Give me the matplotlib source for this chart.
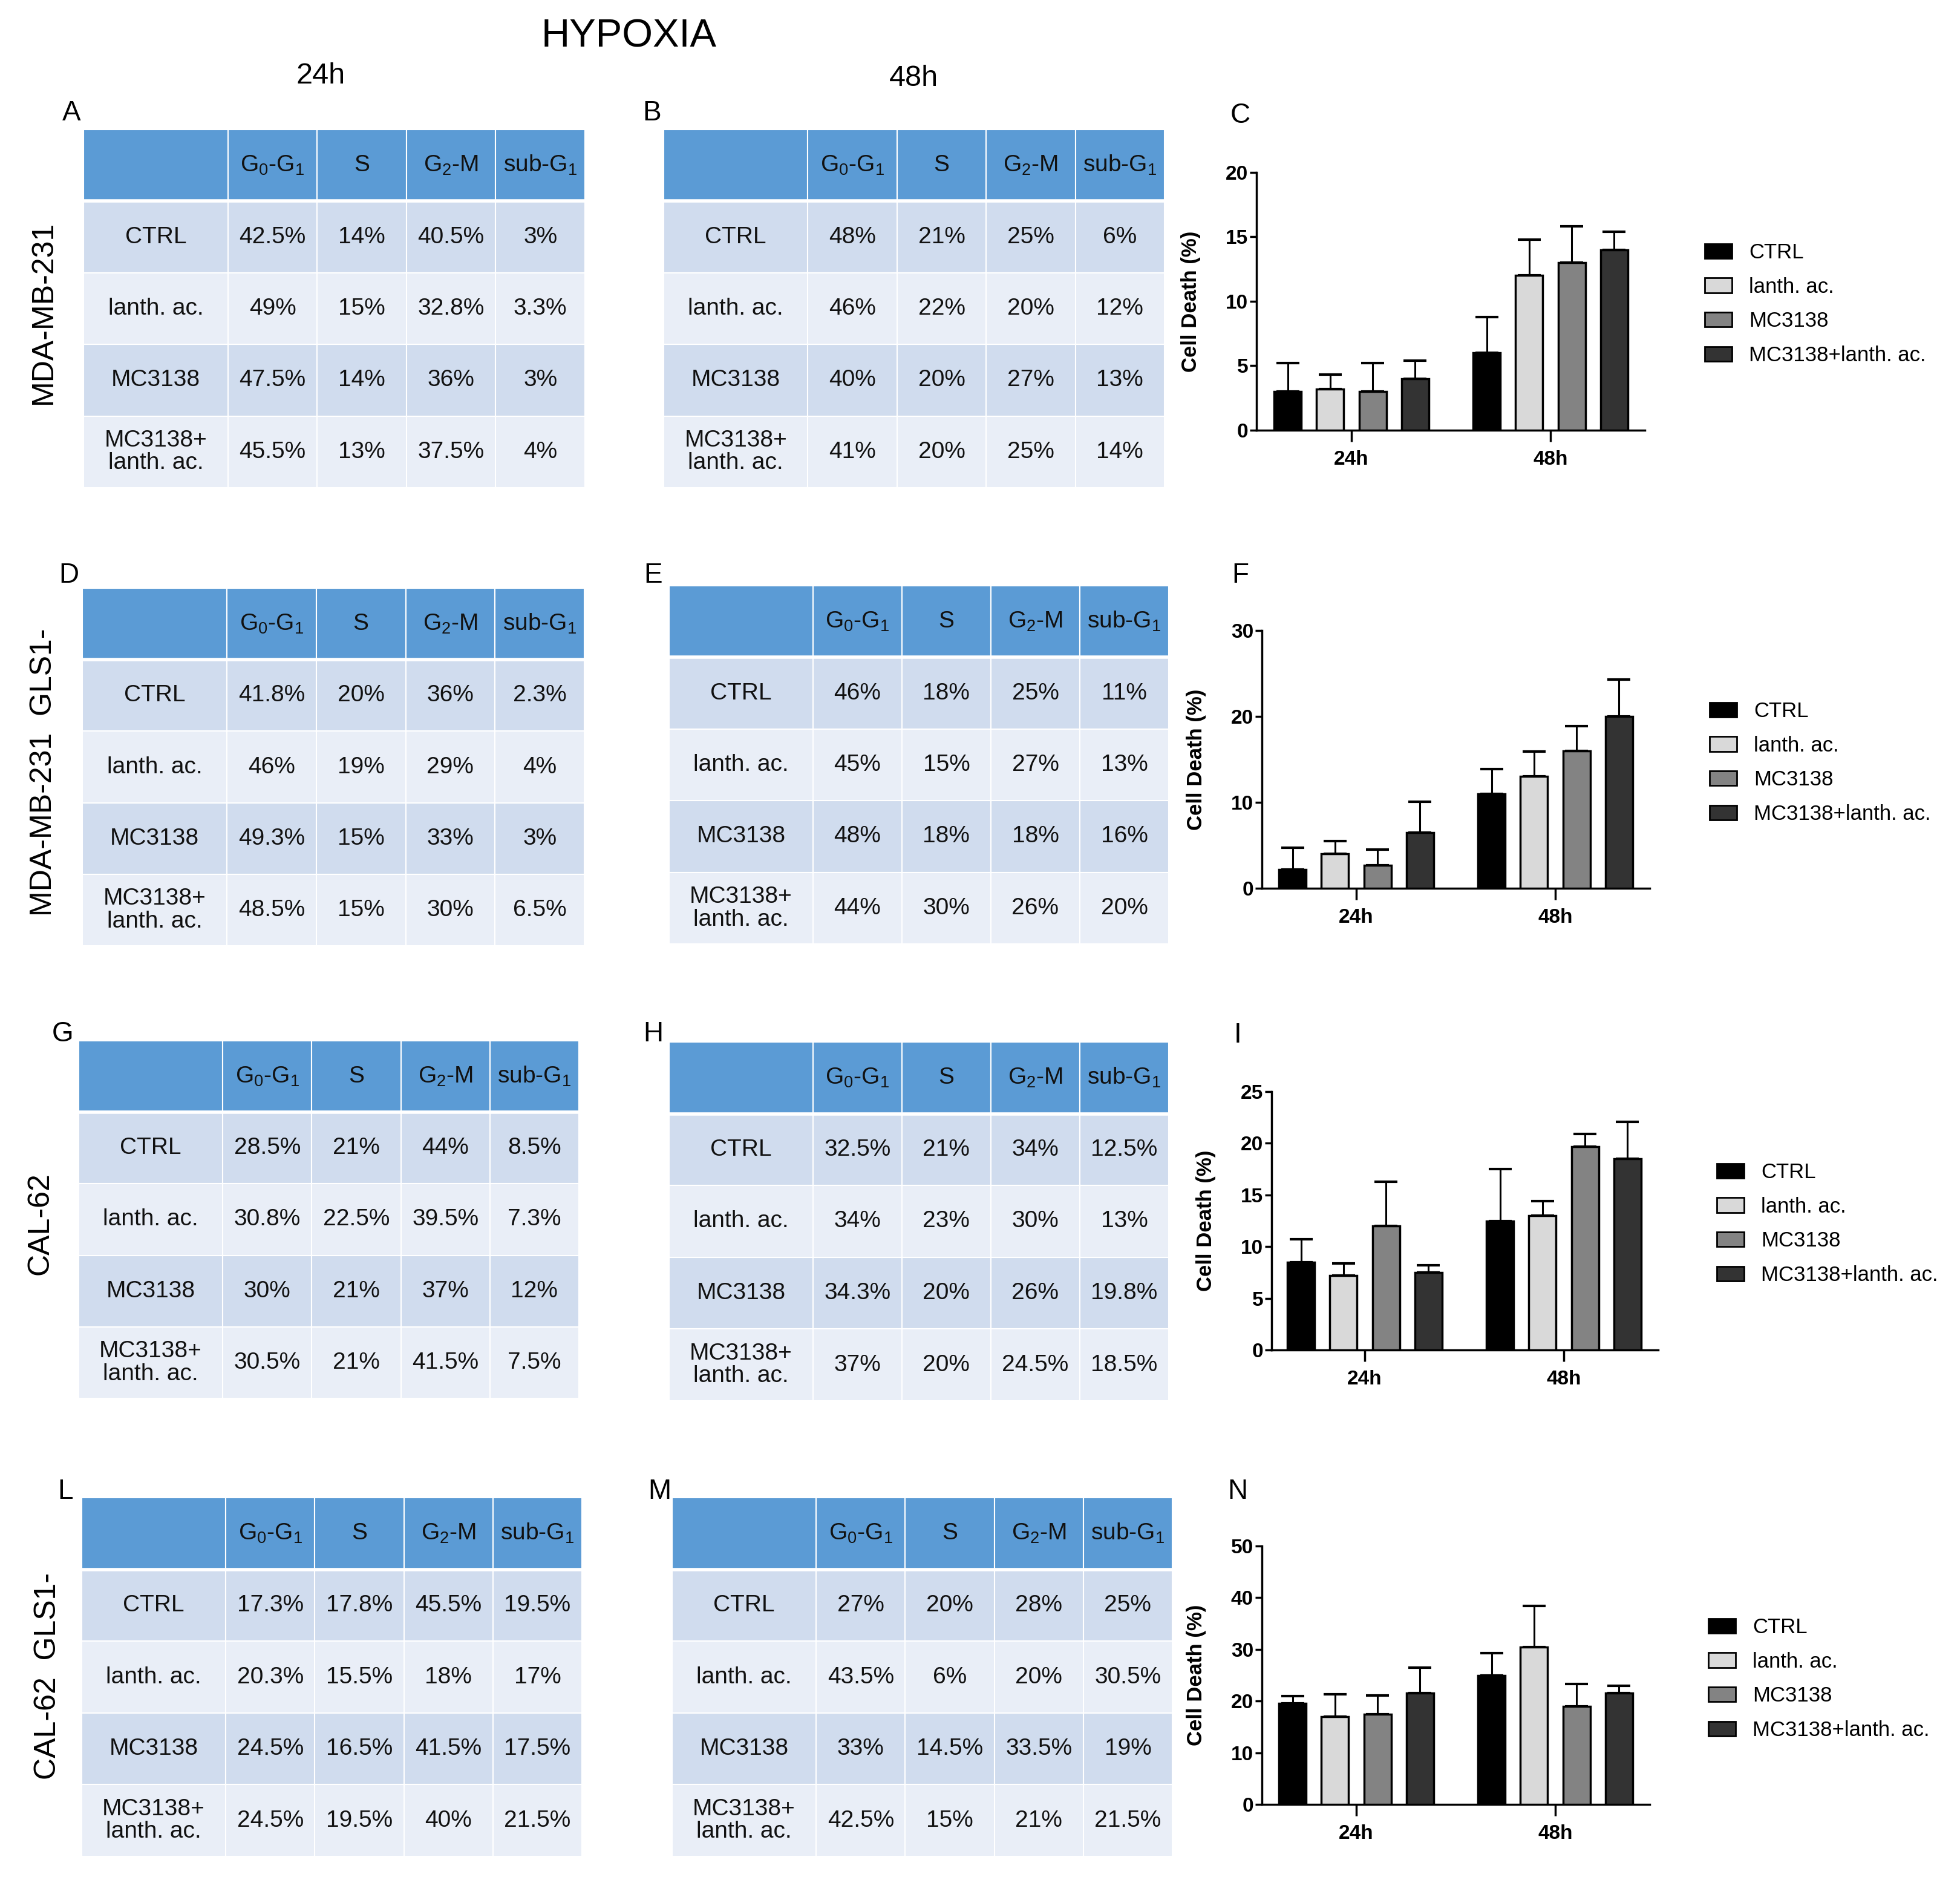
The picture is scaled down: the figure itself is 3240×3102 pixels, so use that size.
import numpy as np
import matplotlib
matplotlib.use("Agg")
import matplotlib.pyplot as plt
from matplotlib.patches import Patch

plt.rcParams['font.family'] = ['Liberation Sans', 'DejaVu Sans']
plt.rcParams['mathtext.fontset'] = 'custom'
plt.rcParams['mathtext.rm'] = 'Liberation Sans'
plt.rcParams['mathtext.it'] = 'Liberation Sans:italic'
plt.rcParams['mathtext.bf'] = 'Liberation Sans:bold'

# ---- data ----
phases = ['', r'G$_0$-G$_1$', 'S', r'G$_2$-M', r'sub-G$_1$']
treatments = ['CTRL', 'lanth. ac.', 'MC3138', 'MC3138+\nlanth. ac.']
legend_labels = ['CTRL', 'lanth. ac.', 'MC3138', 'MC3138+lanth. ac.']
times = ['24h', '48h']

tab_A = [['42.5%', '14%', '40.5%', '3%'], ['49%', '15%', '32.8%', '3.3%'],
         ['47.5%', '14%', '36%', '3%'], ['45.5%', '13%', '37.5%', '4%']]
tab_B = [['48%', '21%', '25%', '6%'], ['46%', '22%', '20%', '12%'],
         ['40%', '20%', '27%', '13%'], ['41%', '20%', '25%', '14%']]
tab_D = [['41.8%', '20%', '36%', '2.3%'], ['46%', '19%', '29%', '4%'],
         ['49.3%', '15%', '33%', '3%'], ['48.5%', '15%', '30%', '6.5%']]
tab_E = [['46%', '18%', '25%', '11%'], ['45%', '15%', '27%', '13%'],
         ['48%', '18%', '18%', '16%'], ['44%', '30%', '26%', '20%']]
tab_G = [['28.5%', '21%', '44%', '8.5%'], ['30.8%', '22.5%', '39.5%', '7.3%'],
         ['30%', '21%', '37%', '12%'], ['30.5%', '21%', '41.5%', '7.5%']]
tab_H = [['32.5%', '21%', '34%', '12.5%'], ['34%', '23%', '30%', '13%'],
         ['34.3%', '20%', '26%', '19.8%'], ['37%', '20%', '24.5%', '18.5%']]
tab_L = [['17.3%', '17.8%', '45.5%', '19.5%'], ['20.3%', '15.5%', '18%', '17%'],
         ['24.5%', '16.5%', '41.5%', '17.5%'], ['24.5%', '19.5%', '40%', '21.5%']]
tab_M = [['27%', '20%', '28%', '25%'], ['43.5%', '6%', '20%', '30.5%'],
         ['33%', '14.5%', '33.5%', '19%'], ['42.5%', '15%', '21%', '21.5%']]

# cell death, rows = treatment, cols = 24h, 48h
death_C = [[3, 6], [3.2, 12], [3, 13], [4, 14]]
err_C = [[2.2, 2.8], [1.1, 2.8], [2.2, 2.8], [1.4, 1.4]]
death_F = [[2.2, 11], [4, 13], [2.7, 16], [6.5, 20]]
err_F = [[2.5, 2.9], [1.5, 2.9], [1.8, 2.9], [3.6, 4.3]]
death_I = [[8.5, 12.5], [7.2, 13], [12, 19.7], [7.5, 18.5]]
err_I = [[2.2, 5.0], [1.2, 1.4], [4.3, 1.2], [0.7, 3.6]]
death_N = [[19.5, 25], [17, 30.5], [17.5, 19], [21.5, 21.5]]
err_N = [[1.5, 4.3], [4.3, 7.9], [3.6, 4.3], [5.0, 1.5]]

bar_colors = ['#000000', '#d9d9d9', '#838383', '#333333']
head_col = '#5b9bd5'
dark_row = '#d0dcee'
light_row = '#e9eef7'

W, H = 3240, 3102
fig = plt.figure(figsize=(W / 100, H / 100), dpi=100)


def rect(x0, y0, x1, y1):
    return [x0 / W, 1 - y1 / H, (x1 - x0) / W, (y1 - y0) / H]


def txt(x, y, s, **kw):
    fig.text(x / W, 1 - y / H, s, ha='center', va='center', **kw)


def draw_table(vals, box):
    ax = fig.add_axes(rect(*box))
    ax.axis('off')
    cells = [phases] + [[t] + row for t, row in zip(treatments, vals)]
    colors = [[head_col] * 5]
    for i in range(4):
        colors.append([dark_row if i % 2 == 0 else light_row] * 5)
    tb = ax.table(cellText=cells, cellColours=colors, cellLoc='center',
                  colWidths=[0.288, 0.178, 0.178, 0.178, 0.178], bbox=[0, 0, 1, 1])
    tb.auto_set_font_size(False)
    tb.set_fontsize(28)
    for (r, c), cell in tb.get_celld().items():
        cell.set_edgecolor('white')
        cell.set_linewidth(1.5)
        cell.get_text().set_linespacing(1.05)
        cell.get_text().set_color('#111111')
    ax.axhline(0.8, color='white', lw=4, zorder=5)


def draw_bars(means, errs, axis_x, top_y, right_x, zero_y, ymax, ystep, t24, leg_xy):
    ax = fig.add_axes(rect(axis_x, top_y, right_x, zero_y))
    sp = 329.0
    x0 = -(t24 - axis_x) / sp
    ax.set_xlim(x0, x0 + (right_x - axis_x) / sp)
    ax.set_ylim(0, ymax)
    x = np.arange(len(times))
    step, w = 0.213, 0.137
    for i in range(4):
        pos = x + (i - 1.5) * step
        m = np.array(means[i])
        e = np.array(errs[i])
        ax.errorbar(pos, m, yerr=[np.zeros_like(e), e], fmt='none', ecolor='black',
                    elinewidth=2.2, capsize=14, capthick=3, zorder=2)
        ax.bar(pos, m, w, color=bar_colors[i], edgecolor='black', linewidth=2.5, zorder=3)
    for s in ['top', 'right']:
        ax.spines[s].set_visible(False)
    for s in ['left', 'bottom']:
        ax.spines[s].set_linewidth(2.5)
    ax.set_yticks(np.arange(0, ymax + 0.1, ystep))
    ax.set_xticks(x)
    ax.set_xticklabels(times)
    ax.tick_params(axis='y', length=8, width=2.5, labelsize=24, pad=2)
    ax.tick_params(axis='x', length=14, width=2.5, labelsize=24, pad=10)
    for lab in ax.get_xticklabels() + ax.get_yticklabels():
        lab.set_fontweight('bold')
    ax.set_ylabel('Cell Death (%)', fontsize=25, fontweight='bold')
    ax.yaxis.set_label_coords(-92 / (right_x - axis_x), 0.5)
    handles = [Patch(facecolor=c, edgecolor='black', linewidth=2) for c in bar_colors]
    fig.legend(handles, legend_labels, loc='upper left',
               bbox_to_anchor=(leg_xy[0] / W, 1 - (leg_xy[1] - 18) / H),
               bbox_transform=fig.transFigure, frameon=False, fontsize=25,
               handlelength=1.3, handleheight=0.7, handletextpad=0.8,
               labelspacing=0.68, borderpad=0, borderaxespad=0)


# titles
txt(1040, 60, 'HYPOXIA', fontsize=47)
txt(530, 125, '24h', fontsize=35)
txt(1510, 130, '48h', fontsize=35)

# row labels
txt(72, 516, 'MDA-MB-231', fontsize=36, rotation=90)
txt(72, 1276, 'MDA-MB-231  GLS1-', fontsize=36, rotation=90)
txt(67, 2022, 'CAL-62', fontsize=36, rotation=90)
txt(79, 2770, 'CAL-62  GLS1-', fontsize=36, rotation=90)

# panel letters
for lab, (px, py) in zip('ABCDEFGHILMN',
                         [(118, 187), (1078, 187), (2050, 191),
                          (114, 951), (1080, 951), (2050, 951),
                          (104, 1709), (1080, 1709), (2046, 1711),
                          (108, 2465), (1090, 2465), (2046, 2465)]):
    txt(px, py, lab, fontsize=33)

# tables
draw_table(tab_A, (138, 214, 967, 806))
draw_table(tab_B, (1097, 214, 1925, 806))
draw_table(tab_D, (136, 972, 966, 1563))
draw_table(tab_E, (1106, 968, 1932, 1560))
draw_table(tab_G, (130, 1720, 957, 2311))
draw_table(tab_H, (1106, 1722, 1932, 2315))
draw_table(tab_L, (135, 2475, 962, 3068))
draw_table(tab_M, (1111, 2475, 1938, 3068))

# bar charts
draw_bars(death_C, err_C, 2077, 285, 2719, 711, 20, 5, 2234, (2818, 419))
draw_bars(death_F, err_F, 2086, 1042, 2727, 1468, 30, 10, 2242, (2826, 1177))
draw_bars(death_I, err_I, 2102, 1804, 2741, 2231, 25, 5, 2256, (2838, 1939))
draw_bars(death_N, err_N, 2086, 2555, 2727, 2982, 50, 10, 2242, (2824, 2691))

fig.savefig('out.png', dpi=100)
